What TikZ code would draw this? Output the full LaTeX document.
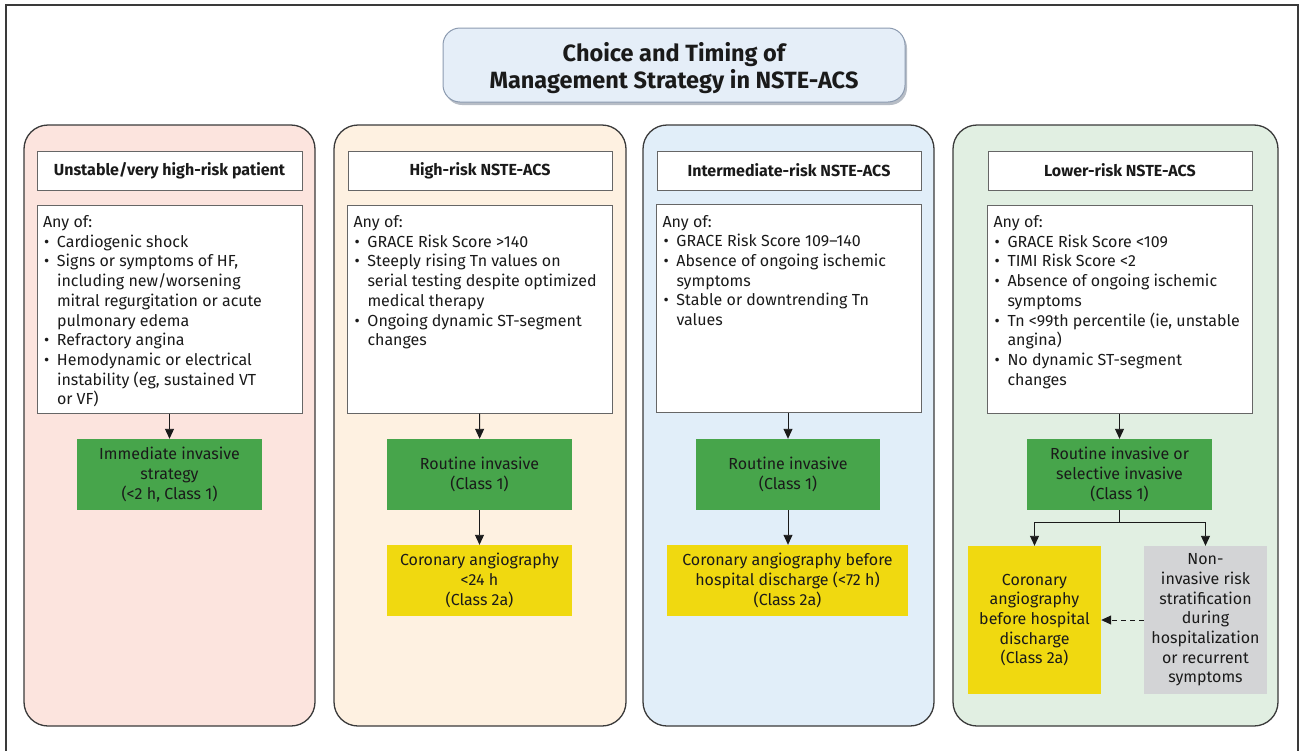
\documentclass[tikz,border=0pt]{standalone}
\usepackage{fontspec}
\setmainfont{Fira Sans}
\usetikzlibrary{arrows.meta,shadows}

\definecolor{framegray}{HTML}{3A3A3A}
\definecolor{titlefill}{HTML}{E5EEF8}
\definecolor{titleline}{HTML}{8C9BB0}
\definecolor{redbg}{HTML}{FCE4DE}
\definecolor{orangebg}{HTML}{FEF1E1}
\definecolor{bluebg}{HTML}{E1EEF9}
\definecolor{greenbg}{HTML}{E1EFE2}
\definecolor{invgreen}{HTML}{47A54B}
\definecolor{angioyellow}{HTML}{F0D910}
\definecolor{stratgray}{HTML}{D3D4D6}
\definecolor{inkblack}{HTML}{1A1A1A}

\newcommand\bodyfont{\fontsize{16}{19.7}\selectfont}
\newcommand\bpt{\par\hangindent=14pt\hangafter=1\noindent\makebox[14pt][l]{\hspace{1pt}\textbullet}}
\newcommand\crittext[1]{\begin{minipage}[t][196pt][t]{253pt}\bodyfont\vspace*{4.5pt}Any of:#1\end{minipage}}

\tikzset{
  panel/.style={draw=framegray, line width=1.3pt, rounded corners=24pt},
  titlebox/.style={draw=titleline, fill=titlefill, line width=1pt, rounded corners=17pt,
    minimum width=462pt, minimum height=74pt, align=center,
    font=\fontsize{23.5}{27}\selectfont\bfseries,
    drop shadow={shadow xshift=2pt, shadow yshift=-3pt, fill=titleline!80!black}},
  headbox/.style={draw=gray!80!black, fill=white, line width=1pt, minimum width=265pt,
    minimum height=39pt, inner sep=0pt, font=\fontsize{16}{19}\selectfont\bfseries},
  critbox/.style={draw=gray!80!black, fill=white, line width=1pt, inner sep=6pt},
  greenbox/.style={fill=invgreen, minimum width=185pt, minimum height=71pt, inner sep=2pt,
    align=center, font=\bodyfont},
  yellowbox/.style={fill=angioyellow, minimum height=71pt, inner sep=2pt,
    align=center, font=\bodyfont},
  graybox/.style={fill=stratgray, inner sep=2pt, align=center, font=\bodyfont},
  arr/.style={draw=inkblack, line width=0.9pt, -{Triangle[length=10pt,width=9pt]}}
}

\begin{document}
\begin{tikzpicture}[x=1pt, y=-1pt, text=inkblack]
\useasboundingbox (0,0) rectangle (1301,750);

% frame
\draw[framegray, line width=2pt] (6,752) -- (6,5) -- (1298,5) -- (1298,752);

\node[titlebox] (title) at (674,65) {\rule{0pt}{25pt}Choice and Timing of\\Management Strategy in NSTE-ACS};

% panels
\draw[panel, fill=redbg] (24,125) rectangle (315,726);
\draw[panel, fill=orangebg] (334,125) rectangle (626,726);
\draw[panel, fill=bluebg] (643,125) rectangle (934,726);
\draw[panel, fill=greenbg] (953,125) rectangle (1278,726);

% unstable
\node[headbox] (head1) at (169.5,170.5) {Unstable/very high-risk patient};
\node[critbox] (crit1) at (169.5,309) {\crittext{%
  \bpt Cardiogenic shock
  \bpt Signs or symptoms of HF,\newline including new/worsening\newline mitral regurgitation or acute\newline pulmonary edema
  \bpt Refractory angina
  \bpt Hemodynamic or electrical\newline instability (eg, sustained VT\newline or VF)}};
\node[greenbox] (inv1) at (169.5,474.5) {Immediate invasive\\strategy\\(<2 h, Class 1)};
\draw[arr] (crit1) -- (inv1);

% high risk
\node[headbox, minimum width=264pt] (head2) at (480,170.5) {High-risk NSTE-ACS};
\node[critbox] (crit2) at (480,309) {\crittext{%
  \bpt GRACE Risk Score >140
  \bpt Steeply rising Tn values on\newline serial testing despite optimized\newline medical therapy
  \bpt Ongoing dynamic ST-segment\newline changes}};
\node[greenbox] (inv2) at (479.5,474.5) {Routine invasive\\(Class 1)};
\node[yellowbox, minimum width=185pt] (angio2) at (479.5,580.5) {Coronary angiography\\<24 h\\(Class 2a)};
\draw[arr] (crit2) -- (inv2);
\draw[arr] (inv2) -- (angio2);

% intermediate risk
\node[headbox, minimum width=264pt] (head3) at (789,170.5) {Intermediate-risk NSTE-ACS};
\node[critbox] (crit3) at (789,308.5) {\crittext{%
  \bpt GRACE Risk Score 109--140
  \bpt Absence of ongoing ischemic\newline symptoms
  \bpt Stable or downtrending Tn\newline values}};
\node[greenbox, minimum width=184pt] (inv3) at (788,474.5) {Routine invasive\\(Class 1)};
\node[yellowbox, minimum width=241pt] (angio3) at (787.5,580.5) {Coronary angiography before\\hospital discharge (<72 h)\\(Class 2a)};
\draw[arr] (crit3.south -| inv3) -- (inv3);
\draw[arr] (inv3) -- (angio3.north -| inv3);

% lower risk
\node[headbox, minimum width=264pt] (head4) at (1120,170.5) {Lower-risk NSTE-ACS};
\node[critbox] (crit4) at (1120,309) {\crittext{%
  \bpt GRACE Risk Score <109
  \bpt TIMI Risk Score <2
  \bpt Absence of ongoing ischemic\newline symptoms
  \bpt Tn <99th percentile (ie, unstable\newline angina)
  \bpt No dynamic ST-segment\newline changes}};
\node[greenbox] (inv4) at (1119.5,474.5) {Routine invasive or\\selective invasive\\(Class 1)};
\node[yellowbox, minimum width=133pt, minimum height=148pt] (angio4) at (1034.5,620) {Coronary\\angiography\\before hospital\\discharge\\(Class 2a)};
\node[graybox, minimum width=123pt, minimum height=148pt] (strat4) at (1205.5,620) {Non-\\invasive risk\\stratification\\during\\hospitalization\\or recurrent\\symptoms};
\draw[arr] (crit4.south -| inv4) -- (inv4);
\draw[arr] (inv4.south) -- ++(0,12) -| (angio4.north);
\draw[arr] (inv4.south) -- ++(0,12) -| (strat4.north);
\draw[arr, dash pattern=on 5pt off 4pt] (strat4.west) -- (angio4.east);
\end{tikzpicture}
\end{document}
